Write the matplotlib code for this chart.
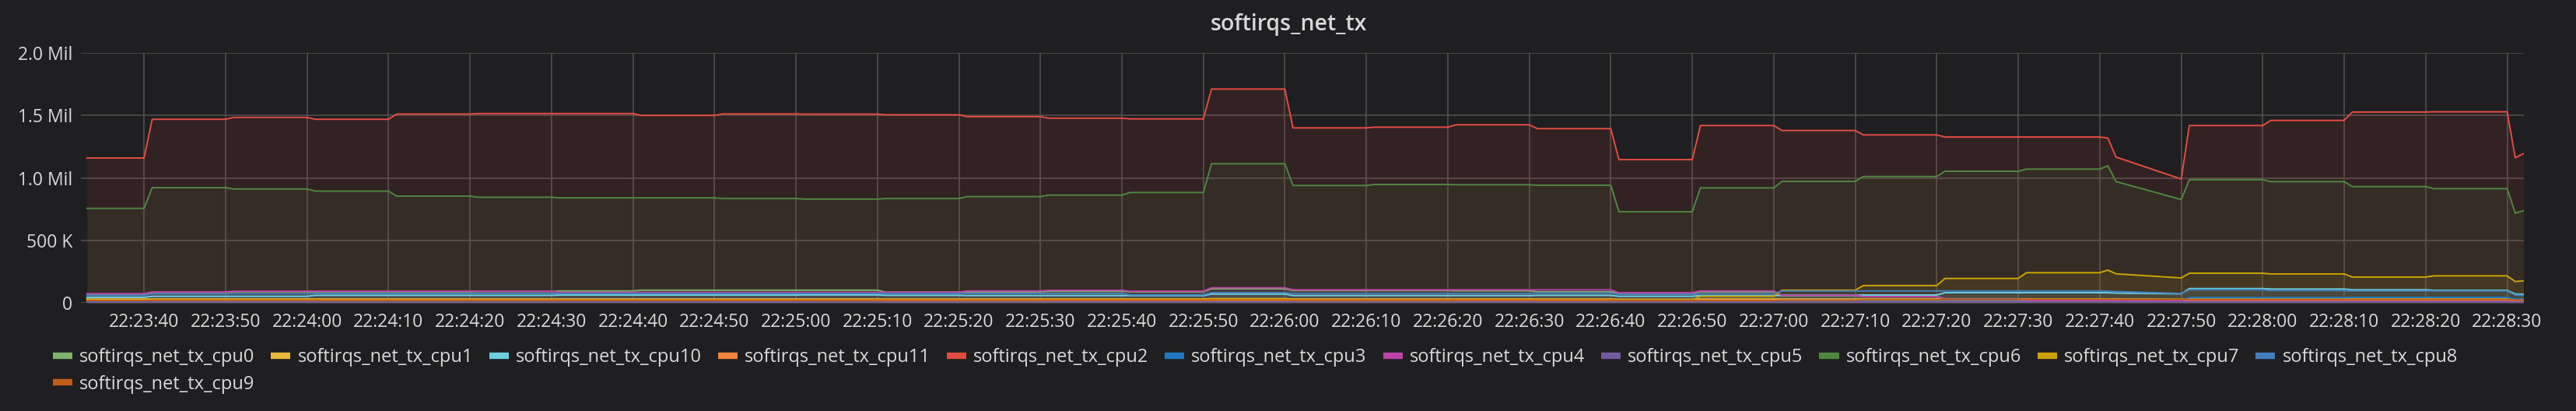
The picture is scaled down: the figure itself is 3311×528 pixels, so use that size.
import datetime as dt
import matplotlib
matplotlib.use('Agg')
import matplotlib.pyplot as plt
import matplotlib.dates as mdates
from matplotlib.lines import Line2D

plt.rcParams['font.family'] = ['Open Sans', 'DejaVu Sans']

# czas pomiaru: sekundy po 22:23:30 (poczatek i koniec kazdego odczytu)
seg_start = [3, 11, 21, 31, 41, 51, 61, 71, 81, 91, 101, 111, 121, 131, 141, 151, 161,
             171, 181, 191, 201, 211, 221, 231, 241, 251, 252, 260, 261, 271, 281, 291, 301, 302]
seg_end = [10, 20, 30, 40, 50, 60, 70, 80, 90, 100, 110, 120, 130, 140, 150, 160, 170,
           180, 190, 200, 210, 220, 230, 240, 250, 251, 252, 260, 270, 280, 290, 300, 301, 302]

# wartosci w tysiacach
cpu0 = [68, 82, 88, 88, 88, 90, 95, 101, 101, 101, 86, 88, 92, 88, 112, 98, 98,
        96, 88, 76, 88, 58, 50, 32, 28, 28, 26, 22, 22, 22, 22, 22, 18, 18]
cpu1 = [30, 30, 30, 30, 30, 30, 30, 30, 30, 30, 30, 30, 30, 30, 33, 30, 30,
        30, 30, 28, 30, 30, 30, 30, 30, 30, 30, 28, 30, 30, 30, 30, 26, 26]
cpu10 = [44, 52, 52, 60, 60, 60, 62, 62, 62, 63, 60, 58, 58, 58, 70, 58, 58,
         58, 60, 52, 58, 60, 62, 81, 81, 81, 78, 72, 114, 110, 104, 100, 70, 68]
cpu11 = [14, 15, 15, 15, 15, 15, 15, 15, 16, 16, 16, 16, 16, 16, 17, 16, 16,
         16, 16, 15, 16, 16, 18, 20, 20, 20, 20, 18, 20, 20, 20, 20, 18, 18]
cpu2 = [1159, 1469, 1484, 1469, 1511, 1515, 1515, 1500, 1512, 1510, 1505, 1490, 1478, 1472, 1711, 1400, 1406,
        1425, 1394, 1146, 1419, 1379, 1344, 1327, 1327, 1319, 1167, 991, 1419, 1460, 1527, 1529, 1161, 1194]
cpu3 = [8, 8, 8, 8, 8, 8, 8, 8, 3, 3, 3, 3, 3, 3, 5, 3, 3,
        3, 3, 3, 5, 20, 20, 22, 22, 22, 20, 18, 42, 42, 44, 44, 30, 30]
cpu4 = [73, 87, 93, 93, 93, 93, 83, 83, 83, 83, 85, 95, 100, 93, 120, 104, 104,
        104, 104, 81, 95, 60, 50, 30, 20, 20, 18, 12, 10, 10, 10, 10, 8, 8]
cpu5 = [5, 6, 6, 6, 6, 6, 6, 6, 6, 6, 6, 6, 6, 6, 7, 6, 6,
        6, 6, 5, 6, 6, 6, 6, 6, 6, 6, 5, 6, 6, 6, 6, 5, 5]
cpu6 = [756, 922, 911, 894, 854, 845, 840, 840, 835, 830, 835, 850, 862, 883, 1113, 939, 947,
        945, 941, 729, 920, 972, 1011, 1053, 1070, 1097, 970, 827, 985, 970, 930, 914, 717, 737]
cpu7 = [22, 24, 24, 25, 25, 25, 24, 24, 25, 25, 26, 26, 27, 27, 28, 26, 26,
        27, 27, 24, 52, 101, 138, 195, 241, 262, 232, 199, 237, 231, 206, 216, 170, 176]
cpu8 = [60, 72, 72, 75, 75, 75, 75, 75, 75, 75, 75, 75, 75, 64, 82, 75, 75,
        75, 78, 68, 72, 95, 95, 95, 95, 93, 90, 75, 104, 98, 95, 95, 62, 60]
cpu9 = [18, 20, 20, 20, 20, 20, 20, 20, 20, 20, 21, 21, 21, 21, 22, 21, 21,
        21, 21, 19, 20, 21, 24, 28, 28, 28, 27, 26, 26, 26, 26, 26, 22, 22]

names = ['softirqs_net_tx_cpu0', 'softirqs_net_tx_cpu1', 'softirqs_net_tx_cpu10', 'softirqs_net_tx_cpu11',
         'softirqs_net_tx_cpu2', 'softirqs_net_tx_cpu3', 'softirqs_net_tx_cpu4', 'softirqs_net_tx_cpu5',
         'softirqs_net_tx_cpu6', 'softirqs_net_tx_cpu7', 'softirqs_net_tx_cpu8', 'softirqs_net_tx_cpu9']
series = [cpu0, cpu1, cpu10, cpu11, cpu2, cpu3, cpu4, cpu5, cpu6, cpu7, cpu8, cpu9]
colors = ['#7EB26D', '#EAB839', '#6ED0E0', '#EF843C', '#E24D42', '#1F78C1',
          '#BA43A9', '#705DA0', '#508642', '#CCA300', '#447EBC', '#C15C17']

ytick_vals = [0, 500000, 1000000, 1500000, 2000000]
ytick_labels = ['0', '500 K', '1.0 Mil', '1.5 Mil', '2.0 Mil']

base = dt.datetime(2018, 1, 1, 22, 23, 30)


def rozwin(vals):
    xs, ys = [], []
    for s, e, v in zip(seg_start, seg_end, vals):
        xs.append(base + dt.timedelta(seconds=s))
        ys.append(v * 1000)
        if e != s:
            xs.append(base + dt.timedelta(seconds=e))
            ys.append(v * 1000)
    return xs, ys


bg = '#1f1e20'
txt = '#d8d9da'
W, H = 3312, 528
fig = plt.figure(figsize=(W / 100, H / 100), dpi=100, facecolor=bg)
ax = fig.add_axes([104 / W, 1 - 389 / H, (3244.5 - 104) / W, (389 - 68) / H])
ax.set_facecolor(bg)

for vals, c, n in zip(series, colors, names):
    xs, ys = rozwin(vals)
    ax.fill_between(xs, 0, ys, color=c, alpha=0.1, linewidth=0)
    ax.plot(xs, ys, color=c, lw=1.4, label=n)

ax.set_ylim(0, 2000000)
ax.set_xlim(base + dt.timedelta(seconds=2.25), base + dt.timedelta(seconds=302.1))
ax.set_yticks(ytick_vals)
ax.set_yticklabels(ytick_labels)
ax.xaxis.set_major_locator(mdates.SecondLocator(bysecond=range(0, 60, 10)))
ax.xaxis.set_major_formatter(mdates.DateFormatter('%H:%M:%S'))
ax.grid(color='#524e4e', lw=1.2)
ax.set_axisbelow(True)
for s in ax.spines.values():
    s.set_visible(False)
ax.tick_params(length=0, labelsize=16.5, colors=txt)
ax.tick_params(axis='y', pad=8)
ax.tick_params(axis='x', pad=9)

fig.text(0.5, 1 - 39 / H, 'softirqs_net_tx', ha='center', va='baseline',
         color=txt, fontsize=20.5, fontweight='semibold')

order = [0, 11, 1, 2, 3, 4, 5, 6, 7, 8, 9, 10]
handles = [Line2D([], [], color=colors[i], lw=6, solid_capstyle='butt') for i in order]
labels = [names[i] for i in order]
leg = fig.legend(handles, labels, loc='upper left', bbox_to_anchor=(68 / W, 1 - 447 / H),
                 ncol=11, frameon=False, fontsize=17, handlelength=1.06, handletextpad=0.38,
                 columnspacing=0.89, labelspacing=0.45, borderpad=0, borderaxespad=0)
for t in leg.get_texts():
    t.set_color(txt)

fig.savefig('out.png', dpi=100, facecolor=bg)
